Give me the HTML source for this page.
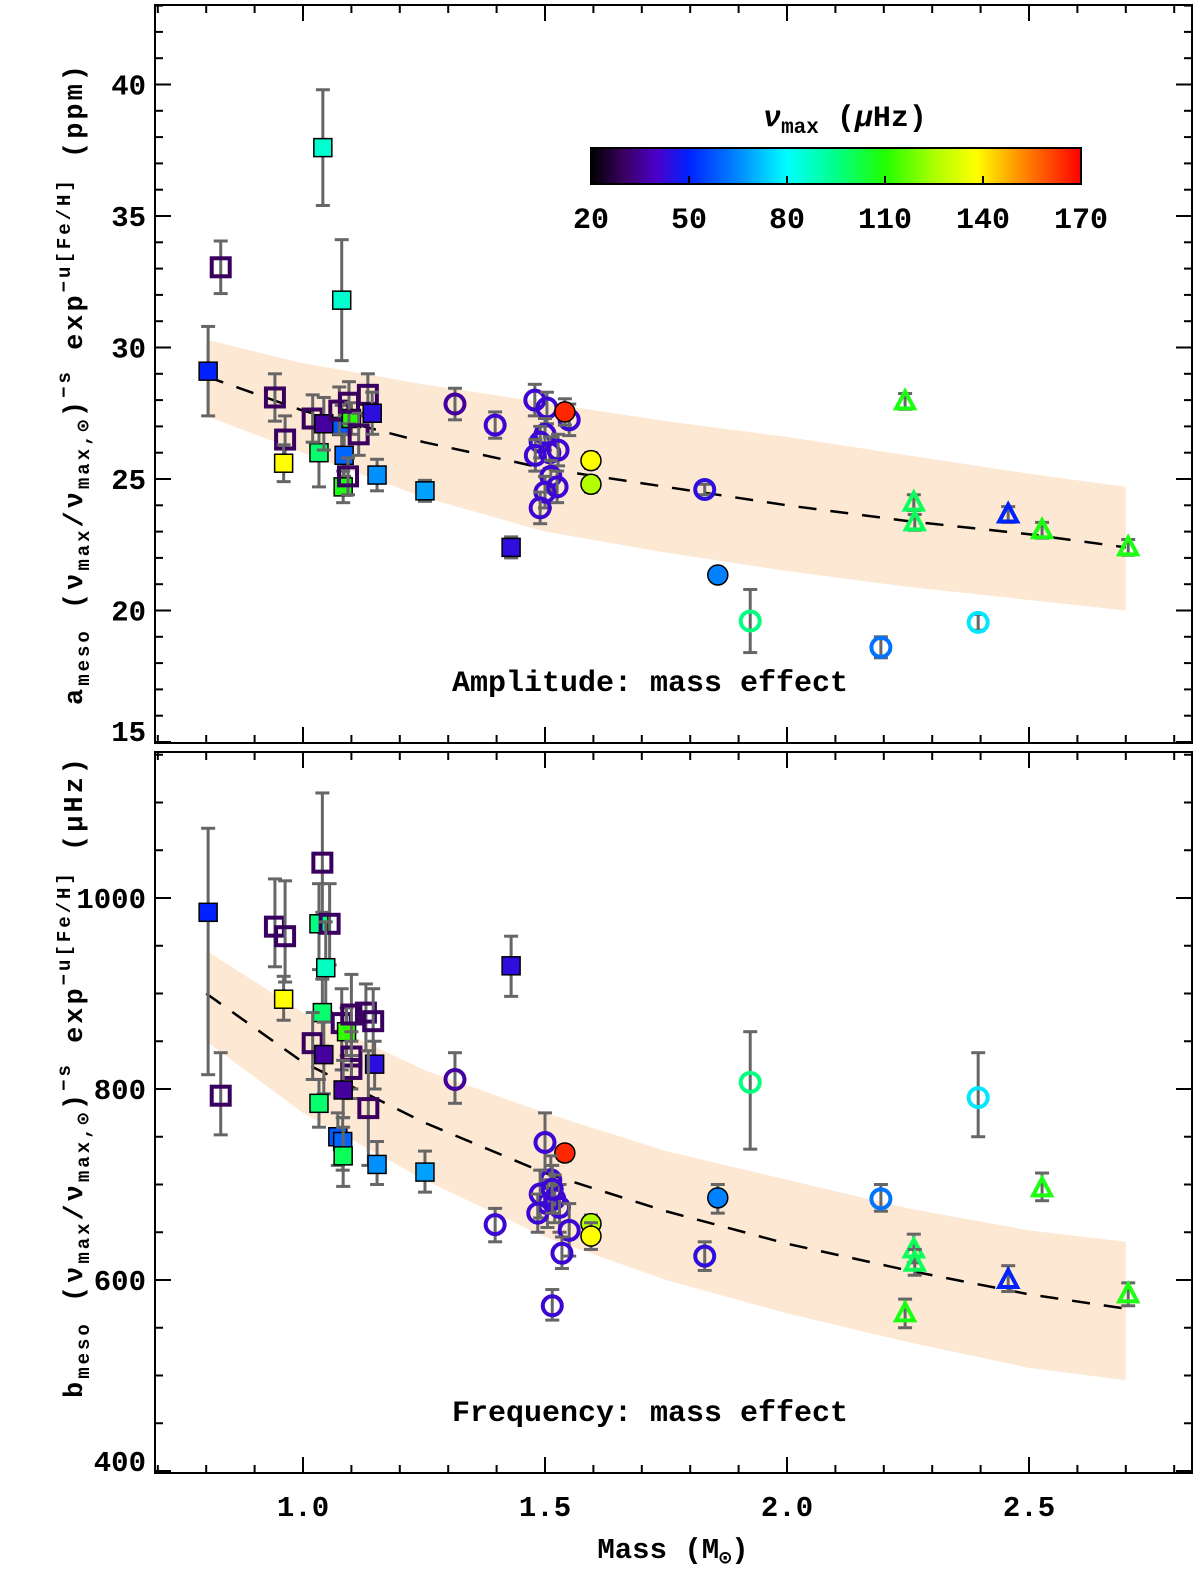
<!DOCTYPE html>
<html><head><meta charset="utf-8"><style>
body{margin:0;background:#fff}
svg{display:block;font-family:"Liberation Mono",monospace;font-weight:bold}
</style></head><body>
<svg id="chart" width="1200" height="1569" viewBox="0 0 1200 1569" xmlns="http://www.w3.org/2000/svg">
<defs>
<linearGradient id="cmap" x1="0" x2="1" y1="0" y2="0">
<stop offset="0" stop-color="#000"/><stop offset="0.067" stop-color="#3a0060"/><stop offset="0.133" stop-color="#4b00c8"/>
<stop offset="0.2" stop-color="#0022ff"/><stop offset="0.3" stop-color="#0088ff"/><stop offset="0.4" stop-color="#00ffff"/>
<stop offset="0.5" stop-color="#00ff88"/><stop offset="0.6" stop-color="#22ff00"/><stop offset="0.7" stop-color="#aaff00"/>
<stop offset="0.787" stop-color="#ffff00"/><stop offset="0.867" stop-color="#ff9900"/><stop offset="1" stop-color="#ff0000"/>
</linearGradient>
</defs>
</svg>
<script>
// ---- data ----
const topMass=[0.804,0.83,0.942,0.963,0.96,1.041,1.08,1.033,1.02,1.043,1.08,1.075,1.1,1.095,1.085,1.083,1.093,1.134,1.115,1.143,1.153,1.252,1.43,
1.314,1.397,1.479,1.504,1.55,1.541,1.5,1.49,1.51,1.48,1.527,1.512,1.525,1.5,1.49,1.595,1.595,1.83,1.857,1.924,2.194,2.395,
2.244,2.262,2.264,2.457,2.527,2.705];
const topVal=[29.1,33.05,28.1,26.5,25.6,37.6,31.8,26.0,27.3,27.1,27.0,27.6,27.3,27.9,25.9,24.7,25.1,28.2,26.7,27.5,25.15,24.55,22.4,
27.85,27.05,28.0,27.7,27.25,27.55,26.7,26.4,26.0,25.9,26.1,25.1,24.7,24.5,23.9,25.7,24.8,24.6,21.35,19.6,18.6,19.55,
27.95,24.1,23.35,23.65,23.05,22.4];
const topErr=[1.7,1.0,0.9,0.9,0.7,2.2,2.3,1.3,0.9,1.0,0.8,0.9,0.6,0.8,0.8,0.6,0.7,0.8,0.8,0.8,0.6,0.4,0.4,
0.6,0.5,0.6,0.6,0.6,0.5,0.6,0.6,0.6,0.6,0.6,0.6,0.6,0.6,0.6,0.3,0.3,0.2,0.2,1.2,0.4,0.3,
0.3,0.3,0.3,0.3,0.3,0.3];
const topNumax=[50,30,30,30,138,86,86,98,30,36,58,30,110,30,60,108,30,30,30,44,66,68,44,
36,42,42,42,42,165,42,42,42,42,42,42,42,42,42,138,126,44,64,96,62,77,
108,100,100,50,108,108];
const topShape="s".repeat(23)+"c".repeat(22)+"t".repeat(6);
const topFill=[1,0,0,0,1,1,1,1,0,1,1,0,1,0,1,1,0,0,0,1,1,1,1,
0,0,0,0,0,1,0,0,0,0,0,0,0,0,0,1,1,0,1,0,0,0,
0,0,0,0,0,0];

const botMass=[0.804,0.83,0.942,0.963,0.96,1.04,1.033,1.055,1.047,1.04,1.02,1.043,1.033,1.08,1.09,1.1,1.13,1.145,1.1,1.1,1.083,1.148,1.135,1.072,1.082,1.083,1.153,1.252,1.43,
1.314,1.397,1.5,1.541,1.512,1.49,1.505,1.485,1.52,1.53,1.515,1.55,1.535,1.515,1.595,1.595,1.83,1.857,1.924,2.194,2.395,
2.244,2.262,2.264,2.457,2.527,2.705];
const botVal=[985,793,970,960,894,1037,973,973,927,880,848,836,785,869,860,878,880,871,834,821,799,826,780,750,745,730,721,713,929,
810,658,744,733,705,690,680,670,685,676,695,652,628,573,659,646,625,686,807,685,791,
565,632,618,600,696,585];
const botLo=[815,752,928,912,872,985,925,930,880,845,810,795,760,820,835,835,840,830,800,790,770,800,720,720,715,698,700,692,897,
785,640,715,725,680,665,655,650,660,650,670,625,612,558,650,632,610,670,737,672,750,
550,618,605,588,683,573];
const botHi=[1073,838,1020,1018,918,1110,1015,1015,975,915,880,870,810,905,885,920,910,905,860,850,830,850,840,775,770,760,745,735,960,
838,675,775,740,730,715,705,690,710,700,720,680,645,590,668,660,640,700,860,700,838,
580,648,632,615,712,597];
const botNumax=[50,30,30,30,138,30,96,30,88,98,30,36,98,30,112,30,30,30,30,30,36,44,30,58,60,100,66,68,44,
36,42,42,165,42,42,42,42,42,42,42,42,42,42,126,138,44,64,96,62,77,
108,100,100,50,108,108];
const botShape="s".repeat(29)+"c".repeat(21)+"t".repeat(6);
const botFill=[1,0,0,0,1,0,1,0,1,1,0,1,1,0,1,0,0,0,0,0,1,1,0,1,1,1,1,1,1,
0,0,0,1,0,0,0,0,0,0,0,0,0,0,1,1,0,1,0,0,0,
0,0,0,0,0,0];

const modelMass=[0.8,1.0,1.25,1.5,1.75,2.0,2.25,2.5,2.7];
const topModel=[28.9,27.6,26.4,25.4,24.7,24.0,23.4,22.9,22.4];
const topUpper=[30.3,29.4,28.6,27.9,27.2,26.6,25.9,25.2,24.7];
const topLower=[27.4,26.0,24.3,23.0,22.2,21.5,20.9,20.4,20.0];
const botModel=[900,828,765,712,672,638,610,585,570];
const botUpper=[945,880,820,775,735,705,675,652,640];
const botLower=[850,775,705,645,600,565,535,508,495];

const xTicks=[1.0,1.5,2.0,2.5];
const xTickLabels=["1.0","1.5","2.0","2.5"];
const topYTicks=[15,20,25,30,35,40];
const botYTicks=[400,600,800,1000];
const cbTicks=[20,50,80,110,140,170];

// ---- scales ----
const X0=155,X1=1192;
const xs=m=>303+(m-1)*484;
const yTop=a=>479-(a-25)*26.3;
const yBot=b=>1089-(b-800)*0.955;
const svg=document.getElementById('chart');
const NS="http://www.w3.org/2000/svg";
function mk(tag,attrs,parent){const e=document.createElementNS(NS,tag);for(const k in attrs)e.setAttribute(k,attrs[k]);(parent||svg).appendChild(e);return e;}

const stops=[[20,[0,0,0]],[30,[58,0,96]],[40,[75,0,200]],[50,[0,34,255]],[65,[0,136,255]],[80,[0,255,255]],[95,[0,255,136]],[110,[34,255,0]],[125,[170,255,0]],[138,[255,255,0]],[150,[255,153,0]],[170,[255,0,0]]];
function cmap(v){for(let i=0;i<stops.length-1;i++){const[a,ca]=stops[i],[b,cb]=stops[i+1];if(v<=b){const t=Math.max(0,(v-a)/(b-a));return 'rgb('+ca.map((c,j)=>Math.round(c+(cb[j]-c)*t)).join(',')+')';}}return 'rgb(255,0,0)';}

function panel(name,yf,yMin,yMax,pTop,pBot,mass,val,lo,hi,nu,shape,fill,model,upper,lower,yticks,minorStep,label){
  const g=mk('g',{});
  
  
  let d='';
  modelMass.forEach((m,i)=>{d+=(i?'L':'M')+xs(m)+','+yf(upper[i]);});
  for(let i=modelMass.length-1;i>=0;i--)d+='L'+xs(modelMass[i])+','+yf(lower[i]);
  const band=mk('path',{d:d+'Z',fill:'#fde8d4'},g);
  
  
  const line=mk('polyline',{points:modelMass.map((m,i)=>xs(m)+','+yf(model[i])).join(' '),fill:'none',stroke:'#000','stroke-width':2.5,'stroke-dasharray':'18,14'},g);
  
  
  mass.forEach((m,i)=>{
    const x=xs(m),y=yf(val[i]),y1=yf(lo[i]),y2=yf(hi[i]);
    const pg=mk('g',{},g);
    
    
    mk('line',{x1:x,x2:x,y1:y1,y2:y2,stroke:'#666','stroke-width':3},pg);
    mk('line',{x1:x-7,x2:x+7,y1:y1,y2:y1,stroke:'#666','stroke-width':3},pg);
    mk('line',{x1:x-7,x2:x+7,y1:y2,y2:y2,stroke:'#666','stroke-width':3},pg);
    const c=cmap(nu[i]),f=fill[i];
    const st=f?{fill:c,stroke:'#000','stroke-width':1.5}:{fill:'none',stroke:c,'stroke-width':4};
    const s=shape[i];
    if(s==='s'){mk('rect',Object.assign({x:x-9,y:y-9,width:18,height:18},st),pg);}
    else if(s==='c'){mk('circle',Object.assign({cx:x,cy:y,r:f?10:9.5},st),pg);}
    else{mk('polygon',Object.assign({points:(x)+','+(y-10)+' '+(x-9)+','+(y+7)+' '+(x+9)+','+(y+7)},st),pg);}
  });
  const fr=mk('rect',{x:X0,y:pTop,width:X1-X0,height:pBot-pTop,fill:'none',stroke:'#000','stroke-width':2},g);
  
  
  for(let k=7;k<=28;k++){const m=k/10,x=xs(m);if(x<X0||x>X1)continue;const L=(k%5===0)?16:8;
    mk('line',{x1:x,x2:x,y1:pBot,y2:pBot-L,stroke:'#000','stroke-width':2},g);
    mk('line',{x1:x,x2:x,y1:pTop,y2:pTop+L,stroke:'#000','stroke-width':2},g);}
  for(let v=yMin;v<=yMax;v+=minorStep){const y=yf(v);if(y<pTop||y>pBot)continue;const major=yticks.includes(v);const L=major?16:8;
    mk('line',{x1:X0,x2:X0+L,y1:y,y2:y,stroke:'#000','stroke-width':2},g);
    mk('line',{x1:X1,x2:X1-L,y1:y,y2:y,stroke:'#000','stroke-width':2},g);}
  yticks.forEach(v=>{let y=yf(v)+10;if(y>pBot)y=pBot-2;
    const t=mk('text',{x:146,y:y,'text-anchor':'end','font-size':29},g);t.textContent=v;
    
    });
  const lt=mk('text',{x:650,y:pBot-52,'text-anchor':'middle','font-size':30},g);
  lt.textContent=label;
  
  
}

panel('amplitude-panel',yTop,15,43,5,743,topMass,topVal,topVal.map((v,i)=>v-topErr[i]),topVal.map((v,i)=>v+topErr[i]),topNumax,topShape,topFill,topModel,topUpper,topLower,topYTicks,1,'Amplitude: mass effect');
panel('frequency-panel',yBot,400,1150,752,1473,botMass,botVal,botLo,botHi,botNumax,botShape,botFill,botModel,botUpper,botLower,botYTicks,50,'Frequency: mass effect');

xTicks.forEach((m,i)=>{const t=mk('text',{x:xs(m),y:1516,'text-anchor':'middle','font-size':29});t.textContent=xTickLabels[i];
  
  });
const xt=mk('text',{x:673,y:1558,'text-anchor':'middle','font-size':29});
xt.innerHTML='Mass (M<tspan font-size="20" dy="6">⊙</tspan><tspan dy="-6">)</tspan>';



function ytitle(name,cy,first,unit,len){
  const t=mk('text',{x:0,y:0,'text-anchor':'middle','font-size':27,textLength:len,lengthAdjust:'spacing',transform:'translate(82,'+cy+') rotate(-90)'});
  t.innerHTML=first+'<tspan font-size="19" dy="7">meso</tspan><tspan dy="-7"> (ν</tspan><tspan font-size="19" dy="7">max</tspan><tspan dy="-7">/ν</tspan><tspan font-size="19" dy="7">max,⊙</tspan><tspan dy="-7">)</tspan><tspan font-size="19" dy="-12">−s</tspan><tspan dy="12"> exp</tspan><tspan font-size="19" dy="-12">−u[Fe/H]</tspan><tspan dy="12"> '+unit+'</tspan>';
  
  
}
ytitle('y-axis-title-amplitude',385,'a','(ppm)',640);
ytitle('y-axis-title-frequency',1078,'b','  (μHz)',640);

const cb=mk('rect',{x:591,y:148,width:490,height:36,fill:'url(#cmap)',stroke:'#000','stroke-width':2});


cbTicks.forEach(v=>{const x=591+(v-20)/150*490;
  mk('line',{x1:x,x2:x,y1:184,y2:176,stroke:'#000','stroke-width':2});
  const t=mk('text',{x:x,y:228,'text-anchor':'middle','font-size':30});t.textContent=v;
  
  });
const ct=mk('text',{x:845,y:126,'text-anchor':'middle','font-size':30});
ct.innerHTML='<tspan font-style="italic">ν</tspan><tspan font-size="21" dy="7">max</tspan><tspan dy="-7"> (</tspan><tspan font-style="italic">μ</tspan>Hz)';


</script>
</body></html>
